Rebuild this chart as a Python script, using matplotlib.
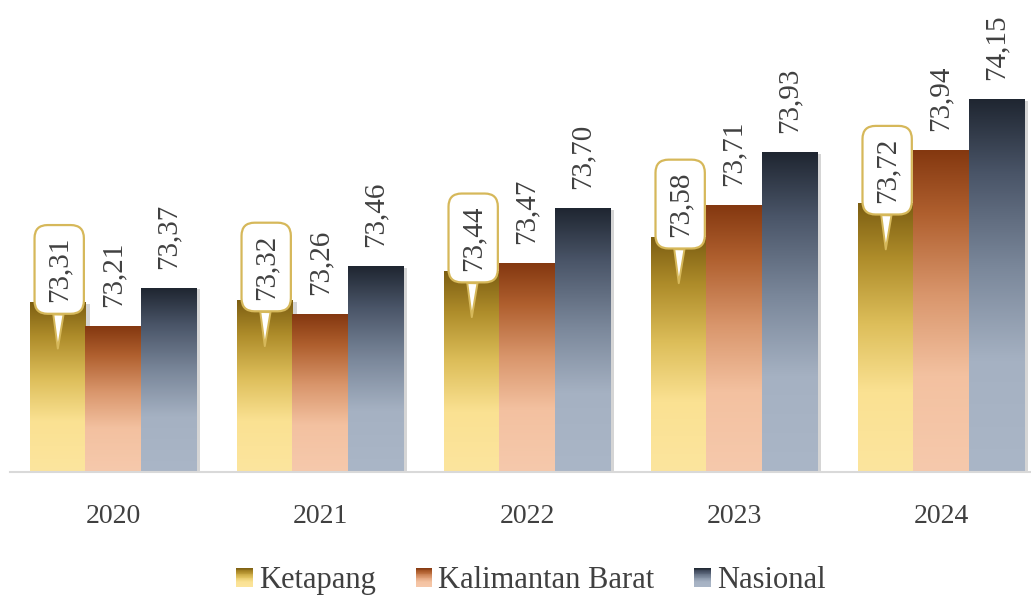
import numpy as np
import matplotlib
matplotlib.use("Agg")
import matplotlib.pyplot as plt
import matplotlib.patheffects as pe
from matplotlib.colors import LinearSegmentedColormap
from matplotlib.legend_handler import HandlerBase
from matplotlib.patches import Rectangle

plt.rcParams['font.family'] = ['Liberation Serif', 'DejaVu Serif']

years = ['2020', '2021', '2022', '2023', '2024']
ketapang = [73.31, 73.32, 73.44, 73.58, 73.72]
kalbar = [73.21, 73.26, 73.47, 73.71, 73.94]
nasional = [73.37, 73.46, 73.70, 73.93, 74.15]
names = ['Ketapang', 'Kalimantan Barat', 'Nasional']

text_col = '#404040'
base = 72.61  # bottom of the value axis


def make_cmap(name, cols):
    pos = [0, 0.3, 0.55, 0.8, 1]
    return LinearSegmentedColormap.from_list(name, list(zip(pos, cols)))


cm_gold = make_cmap('gold', ['#FCE59E', '#FAE192', '#DDBE5A', '#AE8C2A', '#7C5E12'])
cm_rust = make_cmap('rust', ['#F6C9AC', '#F3C1A0', '#D9966C', '#B0602F', '#843810'])
cm_navy = make_cmap('navy', ['#AAB6C7', '#A5B1C2', '#7A879A', '#4A5568', '#1F2631'])
cmaps = [cm_gold, cm_rust, cm_navy]


class GradHandler(HandlerBase):
    def __init__(self, cmap):
        super().__init__()
        self.cmap = cmap

    def create_artists(self, legend, orig_handle, xdescent, ydescent,
                       width, height, fontsize, trans):
        n = 24
        arts = []
        for k in range(n):
            r = Rectangle((-xdescent, -ydescent + height * k / n), width,
                          height / n * 1.05, fc=self.cmap((k + 0.5) / n),
                          ec='none', transform=trans)
            arts.append(r)
        return arts


fig = plt.figure(figsize=(10.31, 5.97), dpi=100)
ax = fig.add_axes([0, 125 / 597, 1, 472 / 597])

x = np.arange(len(years))
w = 0.8 / 3
grad = np.linspace(0, 1, 256).reshape(-1, 1)

for i, (vals, cmap) in enumerate(zip([ketapang, kalbar, nasional], cmaps)):
    vals = np.array(vals)
    bars = ax.bar(x + (i - 1) * w, vals - base, w, bottom=base, color='white',
                  zorder=1,
                  path_effects=[pe.SimplePatchShadow(offset=(3, -1), shadow_rgbFace='#888888', alpha=0.35),
                                pe.Normal()])
    for b, v in zip(bars, vals):
        x0, y0 = b.get_x(), b.get_y()
        ax.imshow(grad, extent=[x0, x0 + b.get_width(), y0, y0 + b.get_height()],
                  origin='lower', aspect='auto', cmap=cmap, zorder=2,
                  interpolation='bicubic')
        xc = x0 + b.get_width() / 2
        lab = f"{v:.2f}".replace('.', ',')
        if i == 0:
            # callout box
            ax.annotate(lab, xy=(xc, v - 0.19), xytext=(1, 57),
                        textcoords='offset points', rotation=90,
                        ha='center', va='center', fontsize=21, color=text_col,
                        bbox=dict(boxstyle='round,pad=0.4,rounding_size=0.45',
                                  fc='white', ec='#D6B85A', lw=1.6),
                        arrowprops=dict(arrowstyle='wedge,tail_width=0.35',
                                        fc='white', ec='#D6B85A', lw=1.4,
                                        shrinkA=0, shrinkB=0),
                        zorder=5)
        else:
            ax.annotate(lab, xy=(xc, v), xytext=(0, 14),
                        textcoords='offset points', rotation=90,
                        ha='center', va='bottom', fontsize=21, color=text_col,
                        zorder=5)

ax.set_xlim(-0.546, 4.435)
ax.set_ylim(base, base + 472 / 242)
ax.set_xticks(x, years)
ax.tick_params(axis='x', length=0, pad=23, labelsize=20, labelcolor=text_col)
ax.set_yticks([])
for s in ['top', 'right', 'left']:
    ax.spines[s].set_visible(False)
ax.spines['bottom'].set_color('#D9D9D9')
ax.spines['bottom'].set_linewidth(1.5)
ax.spines['bottom'].set_bounds(-0.5, 4.435)
ax.patch.set_alpha(0)

handles = [Rectangle((0, 0), 1, 1) for _ in names]
fig.legend(handles, names, handler_map={h: GradHandler(c) for h, c in zip(handles, cmaps)},
           loc='center', bbox_to_anchor=(0.515, 0.027), ncol=3, frameon=False,
           fontsize=22, labelcolor=text_col, handlelength=0.55, handleheight=0.6,
           handletextpad=0.2, columnspacing=1.3)

fig.savefig('out.png', dpi=100)
